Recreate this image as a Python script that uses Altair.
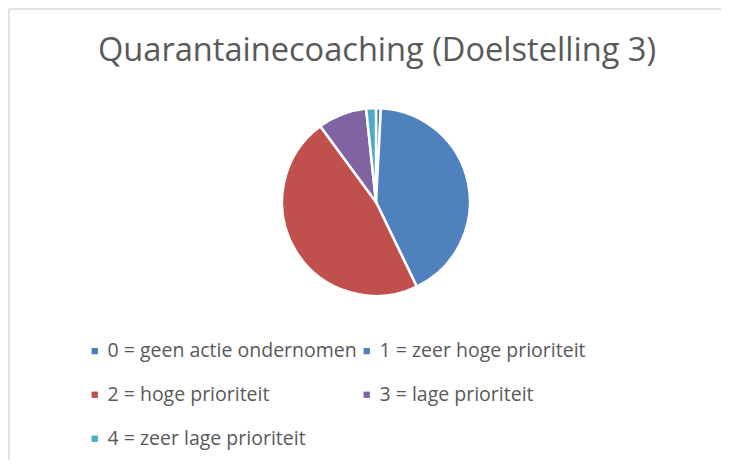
import altair as alt
import pandas as pd

title_text = "Quarantainecoaching (Doelstelling 3)"
labels = [
    "0 = geen actie ondernomen",
    "1 = zeer hoge prioriteit",
    "2 = hoge prioriteit",
    "3 = lage prioriteit",
    "4 = zeer lage prioriteit",
]
values = [1, 50, 56, 10, 2]
colors = ["#4a7ebb", "#4f81bd", "#c0504d", "#8064a2", "#4bacc6"]

FONT = "Open Sans"
TEXT_COLOR = "#595959"

df = pd.DataFrame({"label": labels, "value": values, "idx": list(range(len(labels)))})

pie = alt.Chart(df).mark_arc(outerRadius=94, stroke="white", strokeWidth=2.5).encode(
    theta=alt.Theta("value:Q", stack=True),
    order=alt.Order("idx:Q"),
    color=alt.Color(
        "label:N",
        sort=labels,
        scale=alt.Scale(domain=labels, range=colors),
        legend=alt.Legend(
            title=None,
            orient="none",
            direction="horizontal",
            legendX=77,
            legendY=333,
            columns=2,
            symbolType="square",
            symbolSize=40,
            symbolStrokeWidth=0,
            labelFontSize=19.5,
            labelFont=FONT,
            labelColor=TEXT_COLOR,
            labelOffset=3,
            labelLimit=500,
            rowPadding=23,
            columnPadding=0,
            padding=0,
        ),
    ),
    x=alt.value(368),
    y=alt.value(194),
)

title = alt.Chart(pd.DataFrame({"t": [title_text]})).mark_text(
    font=FONT, fontSize=32.6, color=TEXT_COLOR, align="center", baseline="alphabetic"
).encode(text="t:N", x=alt.value(369), y=alt.value(53))

border_top = alt.Chart(pd.DataFrame({"a": [0]})).mark_rule(color="#d9d9d9", strokeWidth=1.5).encode(
    x=alt.value(1), x2=alt.value(1000), y=alt.value(1)
)
border_left = alt.Chart(pd.DataFrame({"a": [0]})).mark_rule(color="#d9d9d9", strokeWidth=1.5).encode(
    x=alt.value(1), y=alt.value(1), y2=alt.value(1000)
)

chart = alt.layer(border_top, border_left, pie, title).properties(
    width=713, height=452, autosize=alt.AutoSizeParams(type="none"), padding=0
).configure_view(stroke=None)

chart.save("out.html", embed_options={"renderer": "svg", "actions": False})
